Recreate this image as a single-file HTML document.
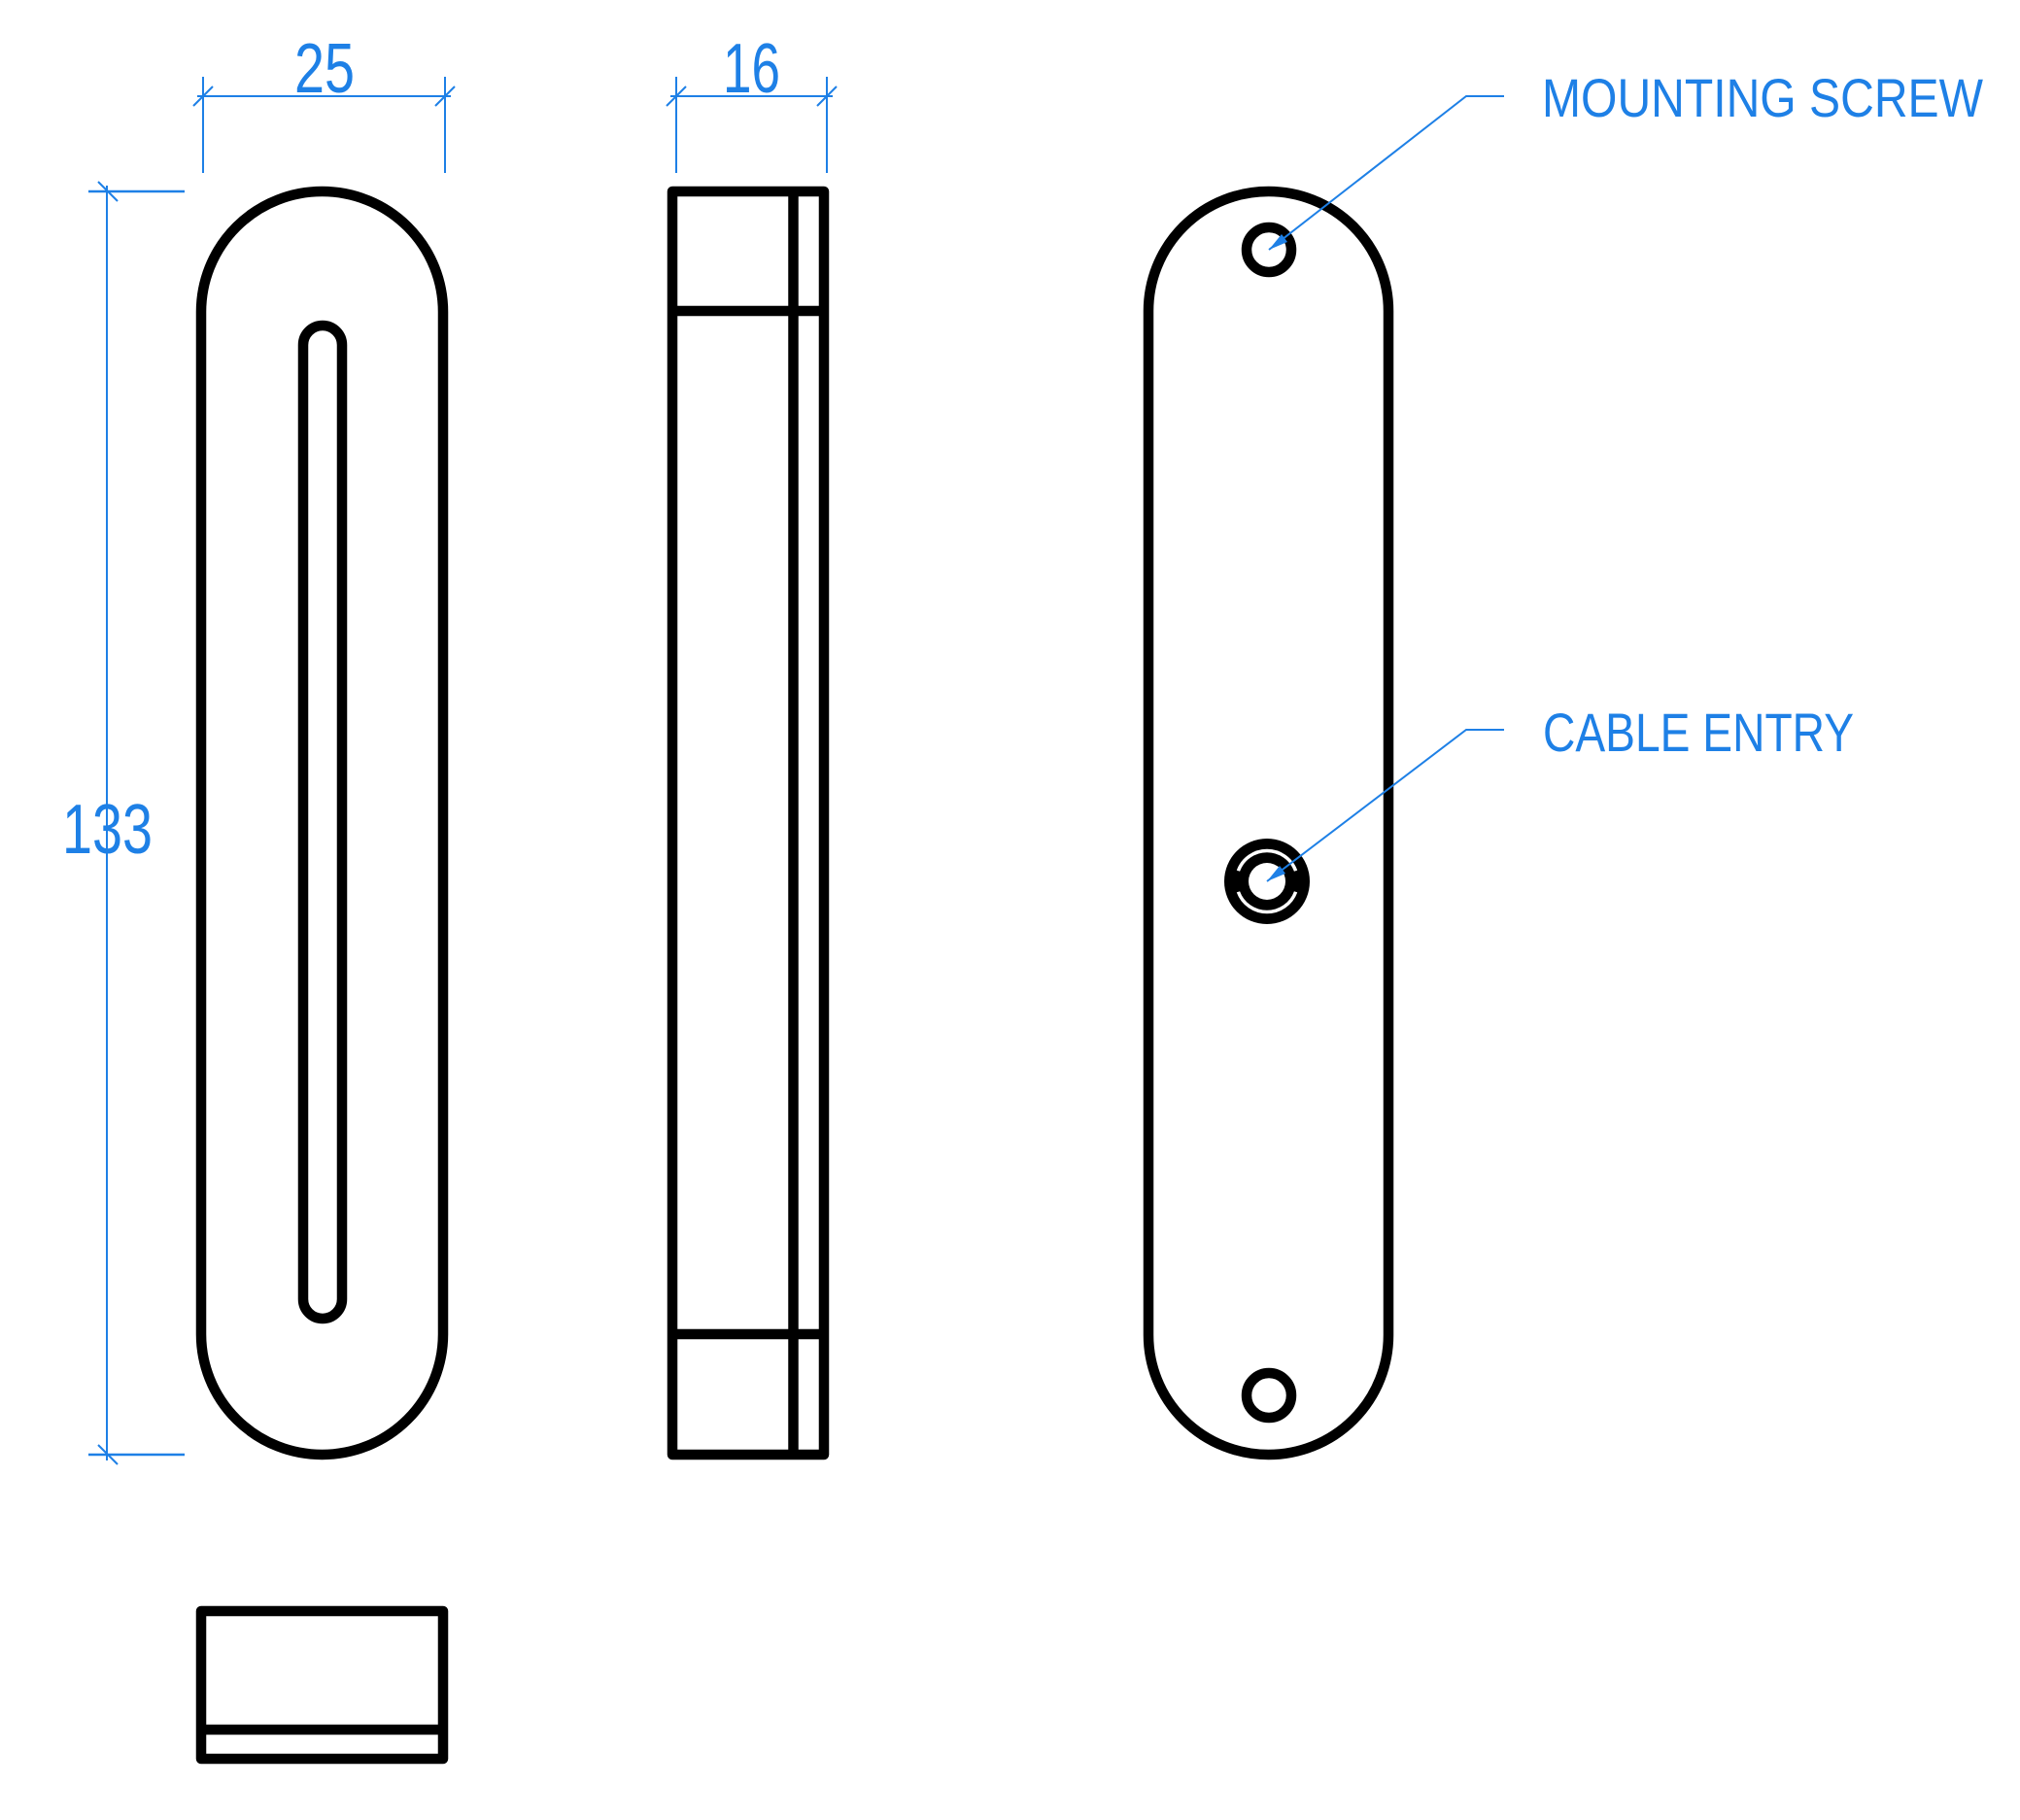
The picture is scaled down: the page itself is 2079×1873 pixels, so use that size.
<!DOCTYPE html>
<html><head><meta charset="utf-8"><style>
html,body{margin:0;padding:0;background:#fff;}
svg{display:block;}
text{font-family:"Liberation Sans",sans-serif;fill:#1E80E6;}
</style></head><body>
<svg width="2079" height="1873" viewBox="0 0 2079 1873" xmlns="http://www.w3.org/2000/svg">
<rect width="2079" height="1873" fill="#fff"/>
<g fill="none" stroke="#000" stroke-width="10.5" stroke-linejoin="round">
  <path d="M207,321 A124.5,124 0 0 1 456,321 L456,1373 A124.5,124 0 0 1 207,1373 Z"/>
  <path d="M312,355 A20,20 0 0 1 352,355 L352,1337 A20,20 0 0 1 312,1337 Z"/>
  <rect x="692" y="197" width="156" height="1300"/>
  <line x1="816.5" y1="197" x2="816.5" y2="1497"/>
  <line x1="692" y1="320" x2="848" y2="320"/>
  <line x1="692" y1="1373" x2="848" y2="1373"/>
  <rect x="207" y="1658" width="249" height="152"/>
  <line x1="207" y1="1780" x2="456" y2="1780"/>
  <path d="M1182,320 A123.5,123 0 0 1 1429,320 L1429,1374 A123.5,123 0 0 1 1182,1374 Z"/>
  <circle cx="1306" cy="257" r="23"/>
  <circle cx="1306" cy="1436" r="23"/>
</g>
<circle cx="1304" cy="907" r="44" fill="#000"/>
<path d="M1274.4,896.2 A31.5,31.5 0 0 1 1333.6,896.2" fill="none" stroke="#fff" stroke-width="3.5"/>
<path d="M1274.4,917.8 A31.5,31.5 0 0 0 1333.6,917.8" fill="none" stroke="#fff" stroke-width="3.5"/>
<circle cx="1304" cy="907" r="19" fill="#fff"/>

<g stroke="#1E80E6" stroke-width="2" fill="none">
  <line x1="209" y1="79" x2="209" y2="178"/>
  <line x1="458" y1="79" x2="458" y2="178"/>
  <line x1="203" y1="99" x2="464" y2="99"/>
  <line x1="199" y1="109" x2="219" y2="89"/>
  <line x1="448" y1="109" x2="468" y2="89"/>
  <line x1="696" y1="79" x2="696" y2="178"/>
  <line x1="851" y1="79" x2="851" y2="178"/>
  <line x1="690" y1="99" x2="857" y2="99"/>
  <line x1="686" y1="109" x2="706" y2="89"/>
  <line x1="841" y1="109" x2="861" y2="89"/>
  <line x1="110" y1="191" x2="110" y2="1503"/>
  <line x1="91" y1="197" x2="190" y2="197" stroke-width="2.5"/>
  <line x1="91" y1="1497" x2="190" y2="1497" stroke-width="2.5"/>
  <line x1="101" y1="187" x2="121" y2="207"/>
  <line x1="101" y1="1487" x2="121" y2="1507"/>
  <polyline points="1306,257 1509,99 1548,99"/>
  <polyline points="1304,907 1509,751 1548,751"/>
</g>
<g fill="#1E80E6">
  <polygon points="1306,257 1319,241 1325,249"/>
  <polygon points="1304,907 1317,891 1323,899"/>
</g>
<text x="303" y="95" font-size="72" textLength="62" lengthAdjust="spacingAndGlyphs">25</text>
<text x="744" y="95" font-size="72" textLength="59" lengthAdjust="spacingAndGlyphs">16</text>
<text x="64" y="878" font-size="72" textLength="93" lengthAdjust="spacingAndGlyphs">133</text>
<text x="1587" y="120" font-size="56" textLength="454" lengthAdjust="spacingAndGlyphs">MOUNTING SCREW</text>
<text x="1588" y="773" font-size="56" textLength="320" lengthAdjust="spacingAndGlyphs">CABLE ENTRY</text>
</svg>
</body></html>
